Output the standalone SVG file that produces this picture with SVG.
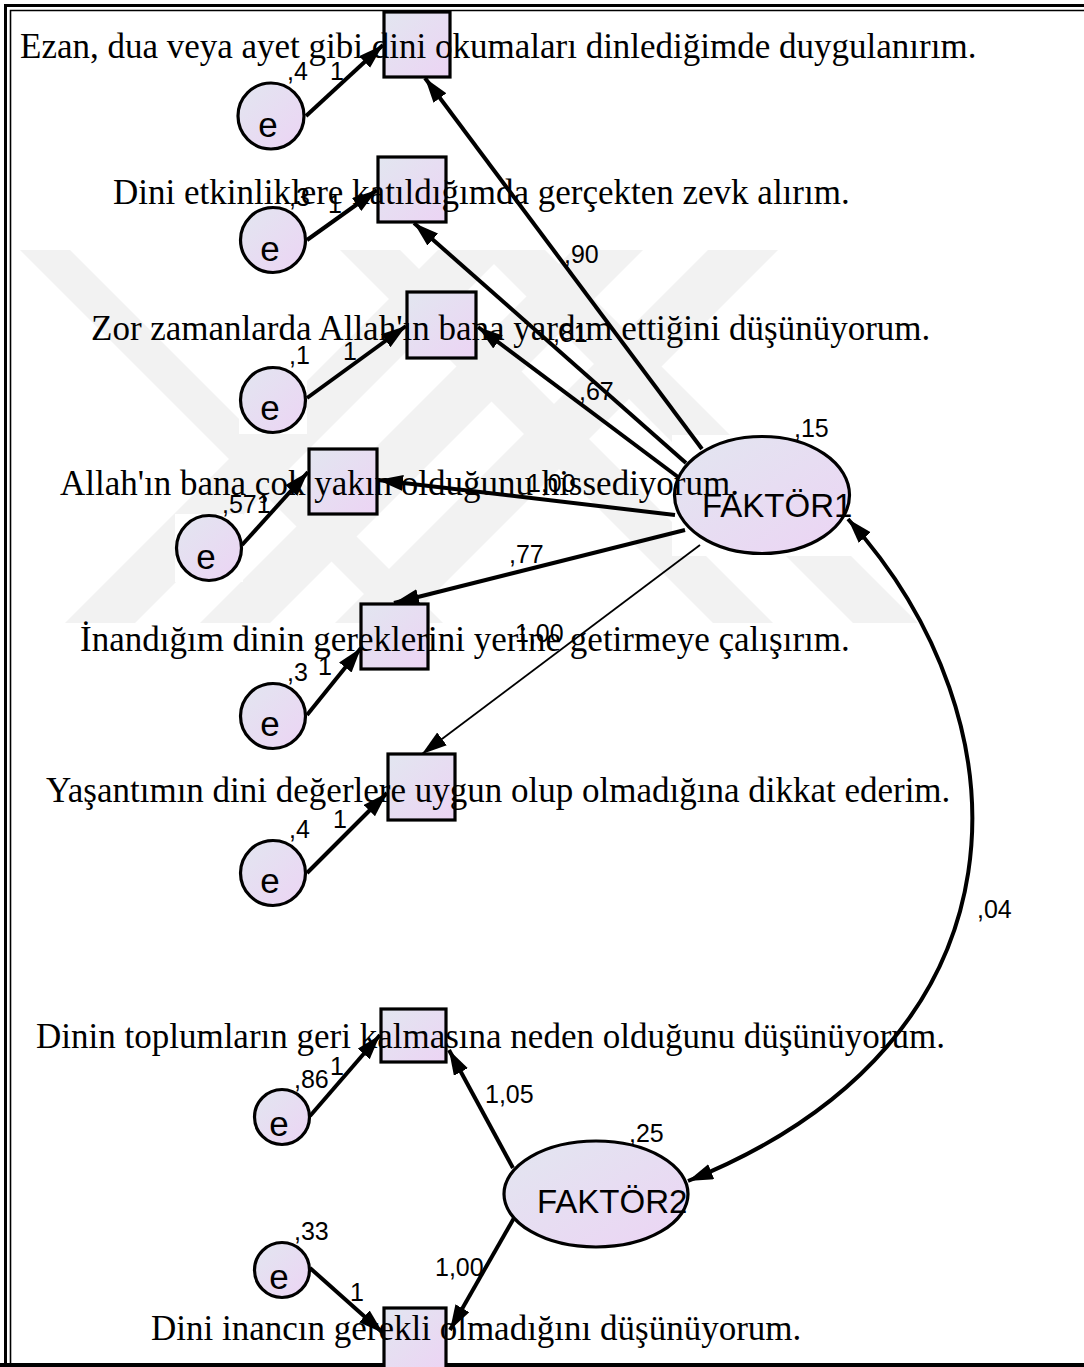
<svg xmlns="http://www.w3.org/2000/svg" width="1084" height="1367" viewBox="0 0 1084 1367">
<defs>
<linearGradient id="fillg" x1="0" y1="0" x2="1" y2="1">
<stop offset="0" stop-color="#e2e6f0"/>
<stop offset="1" stop-color="#ecd4f4"/>
</linearGradient>
<marker id="arr" markerUnits="userSpaceOnUse" markerWidth="28" markerHeight="18" refX="25" refY="8" orient="auto-start-reverse">
<path d="M0,0 L25,8 L0,16 z" fill="#000"/>
</marker>
<clipPath id="wmclip"><rect x="12" y="250" width="1072" height="373"/></clipPath>
</defs>
<style>
.box{fill:url(#fillg);stroke:#000;stroke-width:3.2}
.item{font-family:"Liberation Serif","Times New Roman",serif;font-size:35px;fill:#000}
.lv{font-family:"Liberation Sans",Arial,sans-serif;font-size:33px;fill:#000}
.ev{font-family:"Liberation Sans",Arial,sans-serif;font-size:35px;fill:#000;text-anchor:middle}
.num{font-family:"Liberation Sans",Arial,sans-serif;font-size:25px;fill:#000}
.con{fill:none;stroke:#000;stroke-width:4;marker-end:url(#arr)}
.thin{stroke-width:1.8}
.wm{fill:#f2f2f2}
.bg{fill:#fff}
</style>
<rect x="0" y="0" width="1084" height="1367" fill="#fff"/>
<g id="watermark" clip-path="url(#wmclip)">
<polygon class="wm" points="65,623 135,623 508,250 438,250"/>
<polygon class="wm" points="200,623 270,623 643,250 573,250"/>
<polygon class="wm" points="335,623 405,623 778,250 708,250"/>
<polygon class="wm" points="20,250 70,250 443,623 393,623"/>
<polygon class="wm" points="340,250 400,250 773,623 713,623"/>
<polygon class="wm" points="480,250 545,250 918,623 853,623"/>
</g>
<g id="frame" fill="none" stroke="#000">
<path d="M5.5,1367 V5.5 H1084" stroke-width="3"/>
<path d="M10.5,1367 V10.5 H1084" stroke-width="1.6"/>
<path d="M0,1365 H1084" stroke-width="4"/>
</g>
<g id="nodes">
<g id="v1"><rect class="box" x="384" y="12" width="66" height="65"/></g>
<g id="v2"><rect class="box" x="378" y="157" width="68" height="65"/></g>
<g id="v3"><rect class="box" x="407" y="292" width="69" height="66"/></g>
<g id="v4"><rect class="box" x="309" y="449" width="68" height="65"/></g>
<g id="v5"><rect class="box" x="361" y="604" width="67" height="65"/></g>
<g id="v6"><rect class="box" x="388" y="754" width="67" height="66"/></g>
<g id="v7"><rect class="box" x="381" y="1009" width="65" height="53"/></g>
<g id="v8"><rect class="box" x="384" y="1308" width="62" height="62"/></g>
<g id="e1"><rect class="bg" x="236" y="81" width="70" height="70"/><circle class="box" cx="271" cy="116" r="33"/><text class="ev" x="268" y="137">e</text></g>
<g id="e2"><rect class="bg" x="239" y="206" width="68" height="68"/><circle class="box" cx="273" cy="240" r="32.5"/><text class="ev" x="270" y="261">e</text></g>
<g id="e3"><rect class="bg" x="239" y="366" width="68" height="68"/><circle class="box" cx="273" cy="400" r="32.5"/><text class="ev" x="270" y="420">e</text></g>
<g id="e4"><rect class="bg" x="175" y="514" width="68" height="68"/><circle class="box" cx="209" cy="548" r="32.5"/><text class="ev" x="206" y="569">e</text></g>
<g id="e5"><rect class="bg" x="239" y="682" width="68" height="68"/><circle class="box" cx="273" cy="716" r="32.5"/><text class="ev" x="270" y="736">e</text></g>
<g id="e6"><rect class="bg" x="239" y="839" width="68" height="68"/><circle class="box" cx="273" cy="873" r="32.5"/><text class="ev" x="270" y="893">e</text></g>
<g id="e7"><circle class="box" cx="282" cy="1117" r="27.5"/><text class="ev" x="279" y="1136">e</text></g>
<g id="e8"><circle class="box" cx="282" cy="1270" r="27.5"/><text class="ev" x="279" y="1289">e</text></g>
<g id="F1"><rect class="bg" x="672" y="435" width="180" height="121"/><ellipse class="box" cx="762" cy="495" rx="87.5" ry="58.5"/></g>
<g id="F2"><ellipse class="box" cx="596" cy="1194" rx="92" ry="53"/></g>
</g>
<g id="items">
<text class="item" x="20" y="58">Ezan, dua veya ayet gibi dini okumaları dinlediğimde duygulanırım.</text>
<text class="item" x="113" y="204">Dini etkinliklere katıldığımda gerçekten zevk alırım.</text>
<text class="item" x="91" y="340">Zor zamanlarda Allah'ın bana yardım ettiğini düşünüyorum.</text>
<text class="item" x="60" y="495">Allah'ın bana çok yakın olduğunu hissediyorum.</text>
<text class="item" x="80" y="651">İnandığım dinin gereklerini yerine getirmeye çalışırım.</text>
<text class="item" x="46" y="802">Yaşantımın dini değerlere uygun olup olmadığına dikkat ederim.</text>
<text class="item" x="36" y="1048">Dinin toplumların geri kalmasına neden olduğunu düşünüyorum.</text>
<text class="item" x="151" y="1340">Dini inancın gerekli olmadığını düşünüyorum.</text>
<text class="lv" x="702" y="517">FAKTÖR1</text>
<text class="lv" x="537" y="1213">FAKTÖR2</text>
</g>
<g id="connectors">
<path class="con" d="M306,116 L383,45"/>
<path class="con" d="M307,240 L377,190"/>
<path class="con" d="M307,398 L406,326"/>
<path class="con" d="M242,545 L308,472"/>
<path class="con" d="M307,715 L361,648"/>
<path class="con" d="M307,873 L387,793"/>
<path class="con" d="M310,1116 L380,1035"/>
<path class="con" d="M310,1268 L383,1333"/>
<path class="con" d="M702,449 L425,78"/>
<path class="con" d="M686,463 L414,223"/>
<path class="con" d="M678,477 L478,327"/>
<path class="con" d="M675,515 L378,480"/>
<path class="con" d="M685,530 L394,603"/>
<path class="con thin" d="M700,545 L422,754"/>
<path class="con" d="M513,1168 L449,1050"/>
<path class="con" d="M514,1218 L450,1330"/>
<path class="con" d="M848,519 C1030,720 1040,1040 688,1181" style="marker-start:url(#arr)"/>
</g>
<g id="labels">
<text class="num" x="287" y="80">,4</text>
<text class="num" x="330" y="80">1</text>
<text class="num" x="289" y="206">,3</text>
<text class="num" x="328" y="213">1</text>
<text class="num" x="289" y="364">,1</text>
<text class="num" x="343" y="360">1</text>
<text class="num" x="222" y="513">,571</text>
<text class="num" x="287" y="681">,3</text>
<text class="num" x="318" y="675">1</text>
<text class="num" x="289" y="838">,4</text>
<text class="num" x="333" y="828">1</text>
<text class="num" x="294" y="1088">,86</text>
<text class="num" x="330" y="1075">1</text>
<text class="num" x="294" y="1240">,33</text>
<text class="num" x="350" y="1301">1</text>
<text class="num" x="564" y="263">,90</text>
<text class="num" x="553" y="342">,81</text>
<text class="num" x="579" y="400">,67</text>
<text class="num" x="794" y="437">,15</text>
<text class="num" x="527" y="492">1,00</text>
<text class="num" x="509" y="563">,77</text>
<text class="num" x="515" y="642">1,00</text>
<text class="num" x="977" y="918">,04</text>
<text class="num" x="485" y="1103">1,05</text>
<text class="num" x="629" y="1142">,25</text>
<text class="num" x="435" y="1276">1,00</text>
</g>
</svg>
